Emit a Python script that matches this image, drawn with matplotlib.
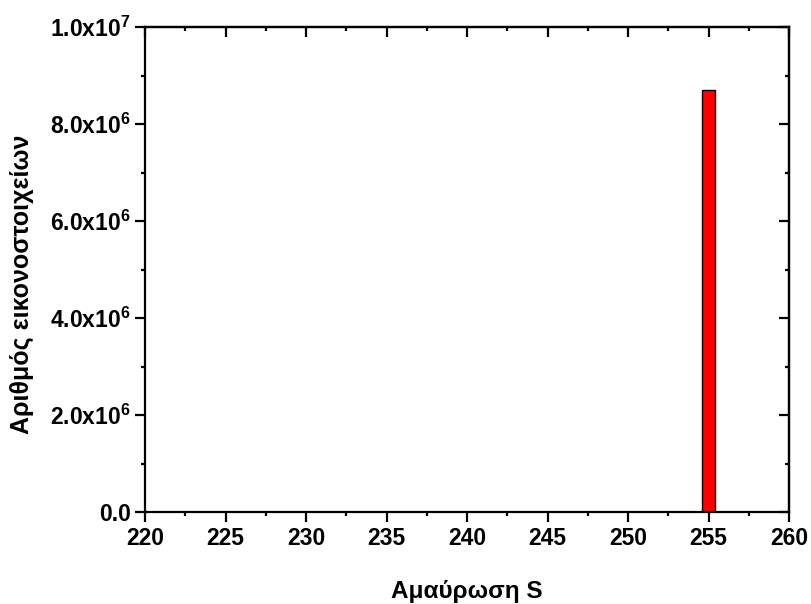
import matplotlib
matplotlib.use("Agg")
import matplotlib.pyplot as plt
from matplotlib.ticker import MultipleLocator, FuncFormatter

# Data
bins = [255]
counts = [8.7e6]

plt.rcParams["font.family"] = ["Liberation Sans", "DejaVu Sans"]
plt.rcParams["font.weight"] = "bold"
plt.rcParams["mathtext.fontset"] = "custom"
plt.rcParams["mathtext.rm"] = "Liberation Sans:bold"
plt.rcParams["mathtext.bf"] = "Liberation Sans:bold"
plt.rcParams["mathtext.default"] = "bf"

fig = plt.figure(figsize=[8.11, 6.04], dpi=100)
ax = fig.add_axes([0.179, 0.152, 0.794, 0.803])

ax.bar(bins, counts, width=0.8, color="red", edgecolor="black", linewidth=1.0)

ax.set_xlim(220, 260)
ax.set_ylim(0, 1.0e7)
ax.xaxis.set_major_locator(MultipleLocator(5))
ax.xaxis.set_minor_locator(MultipleLocator(2.5))
ax.yaxis.set_major_locator(MultipleLocator(2e6))
ax.yaxis.set_minor_locator(MultipleLocator(1e6))

def yfmt(v, pos):
	if v == 0:
		return "0.0"
	e = int(f"{v:e}".split("e")[1])
	m = v / 10**e
	return f"{m:.1f}x10$^{{{e}}}$"

ax.yaxis.set_major_formatter(FuncFormatter(yfmt))

for s in ax.spines.values():
	s.set_linewidth(1.6)

ax.tick_params(which="both", direction="out", width=1.6, labelsize=16.5)
ax.tick_params(which="major", length=7)
ax.tick_params(which="minor", length=3)

# inward ticks on top and right
tx = ax.secondary_xaxis("top")
tx.xaxis.set_major_locator(MultipleLocator(5))
tx.xaxis.set_minor_locator(MultipleLocator(2.5))
tx.tick_params(which="both", direction="in", width=1.6, labeltop=False)
tx.tick_params(which="major", length=7)
tx.tick_params(which="minor", length=3)
ty = ax.secondary_yaxis("right")
ty.yaxis.set_major_locator(MultipleLocator(2e6))
ty.yaxis.set_minor_locator(MultipleLocator(1e6))
ty.tick_params(which="both", direction="in", width=1.6, labelright=False)
ty.tick_params(which="major", length=7)
ty.tick_params(which="minor", length=3)
for sa in (tx, ty):
	for s in sa.spines.values():
		s.set_linewidth(1.6)

ax.set_xlabel("Αμαύρωση S", fontsize=17.5, fontweight="bold")
ax.set_ylabel("Αριθμός εικονοστοιχείων", fontsize=18, fontweight="bold")
ax.xaxis.set_label_coords(0.5, -0.14)
ax.yaxis.set_label_coords(-0.172, 0.47)

plt.savefig("out.png", dpi=100)
